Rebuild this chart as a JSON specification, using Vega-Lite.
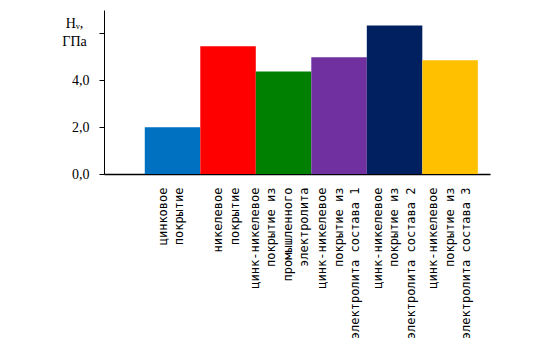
{
  "$schema": "https://vega.github.io/schema/vega-lite/v6.json",
  "width": 386,
  "height": 164,
  "autosize": {"type": "none"},
  "padding": {"left": 104, "top": 10, "right": 64, "bottom": 178},
  "background": "white",
  "config": {"view": {"stroke": null}},
  "data": {
    "values": [
      {"label": "цинковое|покрытие", "hv": 2.0, "color": "#0070C0"},
      {"label": "никелевое|покрытие", "hv": 5.45, "color": "#FF0000"},
      {"label": "цинк-никелевое|покрытие из|промышленного|электролита", "hv": 4.38, "color": "#008000"},
      {"label": "цинк-никелевое|покрытие из|электролита состава 1", "hv": 4.98, "color": "#7030A0"},
      {"label": "цинк-никелевое|покрытие из|электролита состава 2", "hv": 6.34, "color": "#002060"},
      {"label": "цинк-никелевое|покрытие из|электролита состава 3", "hv": 4.85, "color": "#FFC000"}
    ]
  },
  "mark": {"type": "bar"},
  "encoding": {
    "x": {
      "field": "label",
      "type": "nominal",
      "sort": null,
      "scale": {"paddingInner": 0, "paddingOuter": 0.477, "align": 0.77},
      "axis": {
        "title": null,
        "ticks": false,
        "labelAngle": -90,
        "labelAlign": "right",
        "labelBaseline": "middle",
        "labelPadding": 13,
        "labelExpr": "split(datum.label, '|')",
        "labelOffset": {
          "condition": [
            {"test": "indexof(datum.value, 'промышленного') >= 0", "value": -29},
            {"test": "indexof(datum.value, 'состава') >= 0", "value": -17}
          ],
          "value": -10
        },
        "labelLineHeight": 16.5,
        "labelFont": "DejaVu Sans Mono",
        "labelFontSize": 12,
        "labelColor": "black",
        "domainColor": "black",
        "domainWidth": 1.5,
        "labelLimit": 0
      }
    },
    "y": {
      "field": "hv",
      "type": "quantitative",
      "scale": {"domain": [0, 7], "nice": false},
      "axis": {
        "values": [0, 2, 4, 6],
        "labelExpr": "datum.value == 6 ? '' : replace(format(datum.value, '.1f'), '.', ',')",
        "grid": false,
        "tickSize": 5,
        "tickColor": "black",
        "domainColor": "black",
        "labelFont": "Liberation Serif",
        "labelFontSize": 14,
        "labelColor": "black",
        "labelPadding": 10,
        "labelFlush": false,
        "title": ["Hᵥ,", "ГПа"],
        "titleAngle": 0,
        "titleAlign": "center",
        "titleBaseline": "top",
        "titleX": -30,
        "titleY": 6,
        "titleFont": "Liberation Serif",
        "titleFontSize": 14,
        "titleFontWeight": "normal",
        "titleColor": "black",
        "titleLineHeight": 18
      }
    },
    "color": {"field": "color", "type": "nominal", "scale": null}
  }
}
